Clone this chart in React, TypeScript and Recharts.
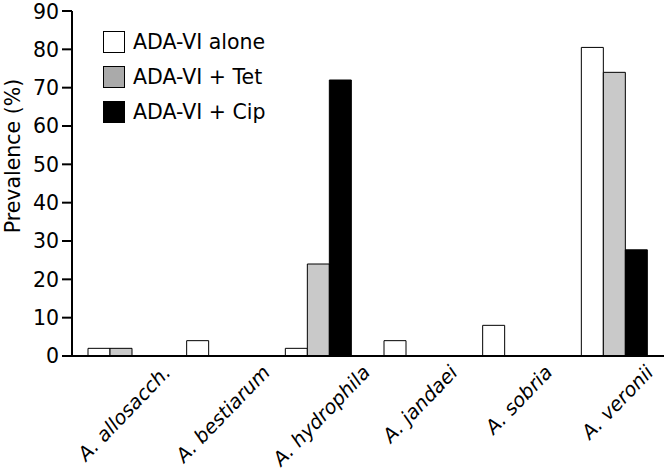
import React from 'react'
import { BarChart, Bar, XAxis, YAxis, Legend } from 'recharts'

const species = ['A. allosacch.', 'A. bestiarum', 'A. hydrophila', 'A. jandaei', 'A. sobria', 'A. veronii']
const alone = [2, 4, 2, 4, 8, 80.5]
const tet = [2, 0, 24, 0, 0, 74]
const cip = [0, 0, 72, 0, 0, 27.7]
const yTicks = [0, 10, 20, 30, 40, 50, 60, 70, 80, 90]

const series = [
  { key: 'alone', label: 'ADA-VI alone', fill: '#ffffff', swatch: '#ffffff' },
  { key: 'tet', label: 'ADA-VI + Tet', fill: '#c9c9c9', swatch: '#aaaaaa' },
  { key: 'cip', label: 'ADA-VI + Cip', fill: '#000000', swatch: '#000000' },
]

const data = species.map((name, i) => ({
  name,
  alone: alone[i],
  tet: tet[i],
  cip: cip[i],
}))

const FONT = 'DejaVu Sans, sans-serif'
const FS = 20.5
const XFS = 19.5
const ANGLE = 46

let ctx: CanvasRenderingContext2D | null = null
function textWidth(s: string): number {
  if (!ctx) ctx = document.createElement('canvas').getContext('2d')
  if (!ctx) return s.length * XFS * 0.5
  ctx.font = `italic ${XFS}px "DejaVu Sans"`
  return ctx.measureText(s).width
}

// label centred under the group, top of the rotated box at a fixed height
const SpeciesTick = ({ x, y, payload }: any) => {
  const w = textWidth(payload.value)
  const sin = Math.sin((ANGLE * Math.PI) / 180)
  const cx = x + 3
  const cy = y + 13 + (w / 2) * sin
  return (
    <text
      x={cx}
      y={cy}
      transform={`rotate(-${ANGLE}, ${cx}, ${cy})`}
      textAnchor="middle"
      dominantBaseline="central"
      fontSize={XFS}
      fontStyle="italic"
      fontFamily={FONT}
      fill="#000"
    >
      {payload.value}
    </text>
  )
}

const YLabel = () => (
  <text
    x={20}
    y={156}
    transform="rotate(-90, 20, 156)"
    textAnchor="middle"
    fontSize={FS}
    fontFamily={FONT}
    fill="#000"
  >
    Prevalence (%)
  </text>
)

const LegendBox = () => (
  <div style={{ fontFamily: FONT, fontSize: FS, color: '#000' }}>
    {series.map((s) => (
      <div key={s.key} style={{ display: 'flex', alignItems: 'center', height: 35 }}>
        <div
          style={{
            width: 20,
            height: 20,
            background: s.swatch,
            border: '1.5px solid #000',
            marginRight: 8,
          }}
        />
        <span>{s.label}</span>
      </div>
    ))}
  </div>
)

export default function App() {
  return (
    <div style={{ position: 'absolute', left: 0, top: 0, background: '#fff' }}>
      <BarChart
        width={666}
        height={474}
        data={data}
        margin={{ top: 11, right: 2, bottom: 0, left: 0 }}
        barGap={0}
        barCategoryGap={16}
      >
        <XAxis
          dataKey="name"
          tick={<SpeciesTick />}
          tickLine={false}
          tickSize={0}
          tickMargin={0}
          axisLine={{ stroke: '#000', strokeWidth: 2 }}
          height={118}
          interval={0}
        />
        <YAxis
          domain={[0, 90]}
          ticks={yTicks}
          width={72}
          axisLine={{ stroke: '#000', strokeWidth: 2 }}
          tickLine={{ stroke: '#000', strokeWidth: 2 }}
          tickSize={10}
          tickMargin={3}
          tick={{ fill: '#000', fontSize: FS, fontFamily: FONT }}
          label={<YLabel />}
        />
        <Legend
          layout="vertical"
          verticalAlign="middle"
          align="center"
          content={<LegendBox />}
          wrapperStyle={{ left: 103, top: 24, width: 220 }}
        />
        {series.map((s) => (
          <Bar
            key={s.key}
            dataKey={s.key}
            name={s.label}
            fill={s.fill}
            stroke="#000"
            strokeWidth={1}
            isAnimationActive={false}
          />
        ))}
      </BarChart>
    </div>
  )
}
